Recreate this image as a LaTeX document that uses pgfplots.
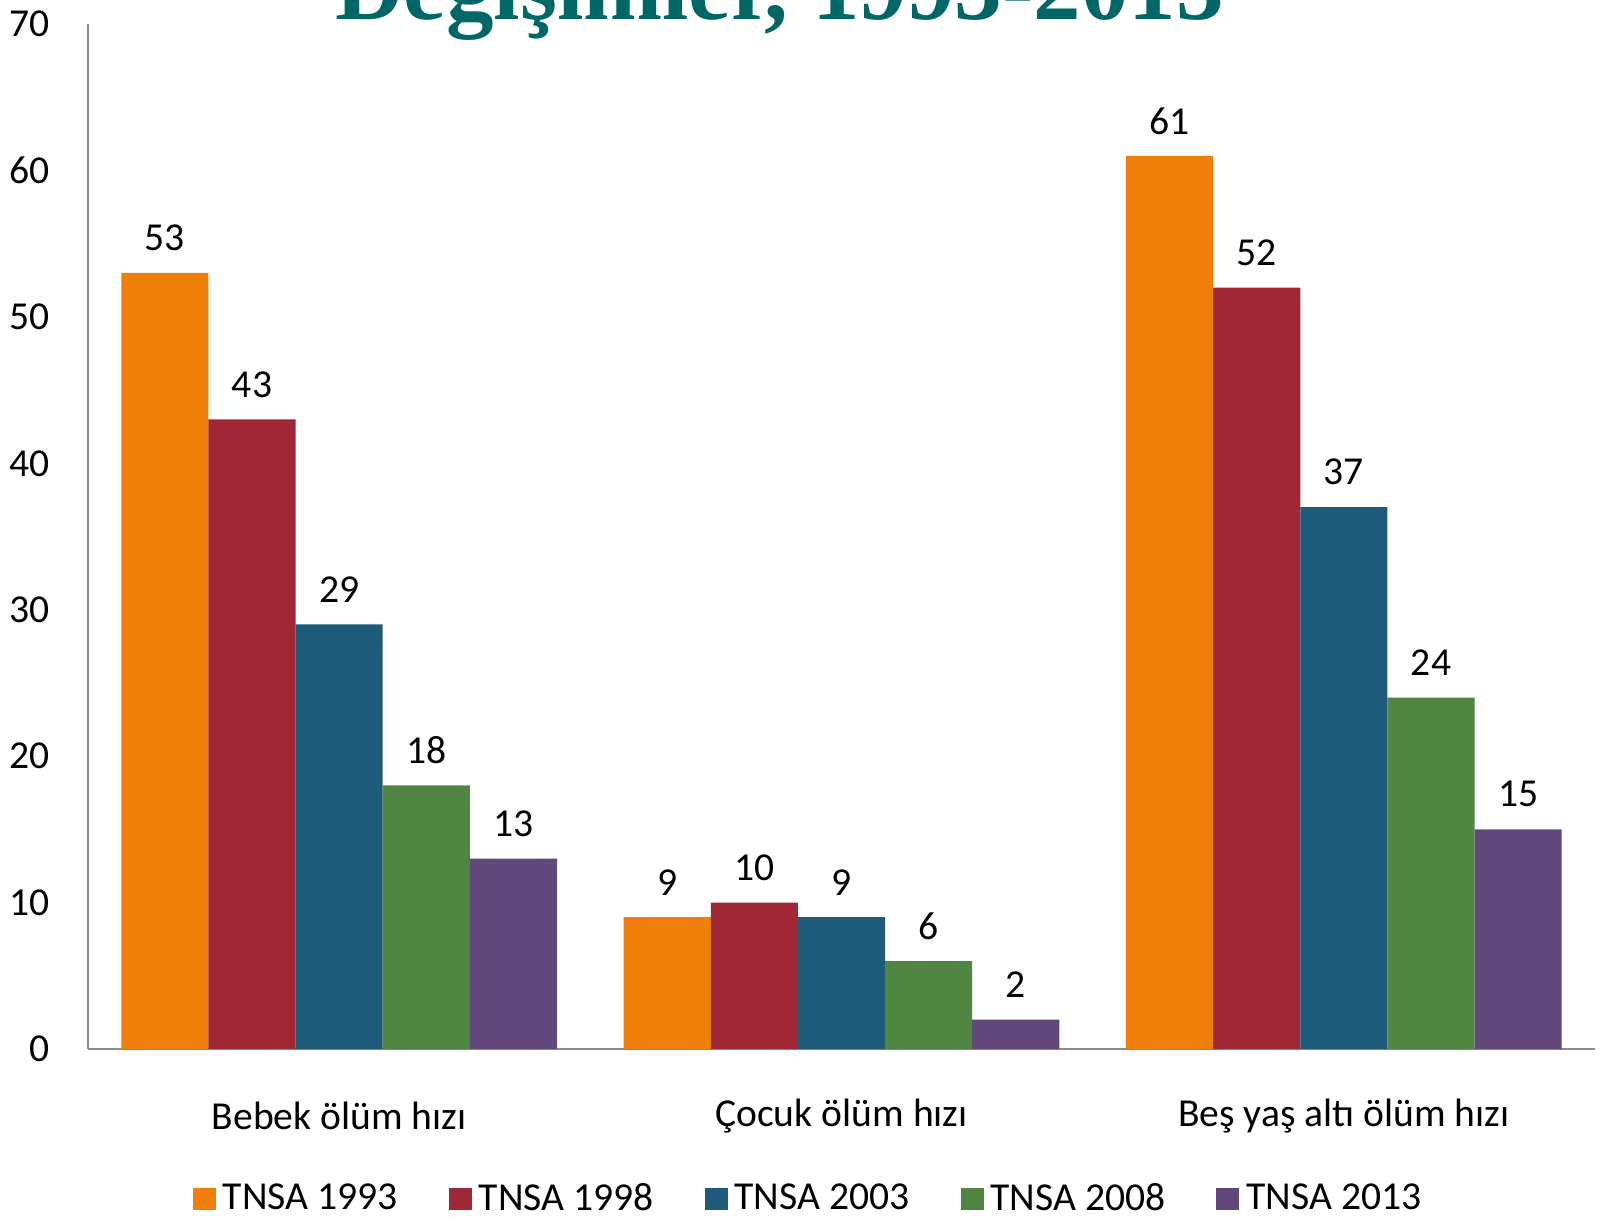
\documentclass[border=0pt]{standalone}
\usepackage{fontspec}
\setmainfont{Carlito}
\newfontfamily\titlefont{Liberation Serif}
\usepackage{pgfplots}
\pgfplotsset{compat=1.18}

\definecolor{c93}{RGB}{240,127,9}
\definecolor{c98}{RGB}{160,40,54}
\definecolor{c03}{RGB}{30,90,122}
\definecolor{c08}{RGB}{80,134,66}
\definecolor{c13}{RGB}{96,73,122}
\definecolor{teal}{RGB}{0,102,102}
\definecolor{axgray}{RGB}{140,140,140}

\begin{document}
\begin{tikzpicture}
\begin{axis}[
    scale only axis,
    width=753.5pt, height=512.5pt,
    ybar=0pt, bar width=0.1735,
    xmin=-0.5, xmax=2.5,
    ymin=0, ymax=70,
    ytick={0,10,...,70},
    xtick={0,1,2},
    xticklabels={Bebek ölüm hızı, Çocuk ölüm hızı, Beş yaş altı ölüm hızı},
    axis x line*=bottom, axis y line*=left,
    axis line style={axgray, line width=1pt},
    major tick length=0pt,
    font=\fontsize{19.8}{23}\selectfont,
    /pgf/number format/assume math mode=true,
    yticklabel style={inner sep=0pt, anchor=east, xshift=-19pt},
    xticklabel style={inner sep=0pt, anchor=center, yshift=-33.5pt},
    nodes near coords,
    every node near coord/.append style={inner sep=0pt, anchor=center, yshift=17.5pt, black},
    legend columns=5,
    legend style={at={(0.4785,-0.146)}, anchor=center, draw=none, fill=none,
        font=\fontsize{19.8}{23}\selectfont,
        nodes={inner ysep=0pt},
        /tikz/every odd column/.append style={column sep=1.5pt},
        /tikz/every even column/.append style={column sep=23.5pt}},
    legend image code/.code={\fill[#1] (0pt,-5.5pt) rectangle (11.5pt,5.5pt);},
]
\addplot[fill=c93, draw=none] coordinates {(0,53) (1,9) (2,61)};
\addplot[fill=c98, draw=none] coordinates {(0,43) (1,10) (2,52)};
\addplot[fill=c03, draw=none] coordinates {(0,29) (1,9) (2,37)};
\addplot[fill=c08, draw=none] coordinates {(0,18) (1,6) (2,24)};
\addplot[fill=c13, draw=none] coordinates {(0,13) (1,2) (2,15)};
\legend{TNSA 1993, TNSA 1998, TNSA 2003, TNSA 2008, TNSA 2013}
\end{axis}
\node[anchor=base west, inner sep=0pt, text=teal,
      font=\titlefont\bfseries\fontsize{47.5}{50}\selectfont]
      at (123.5pt,514.5pt) {Değişimler, 1993-2013};
\pgfresetboundingbox
\useasboundingbox (-44pt,-86.5pt) rectangle (760pt,524.5pt);
\end{tikzpicture}
\end{document}
